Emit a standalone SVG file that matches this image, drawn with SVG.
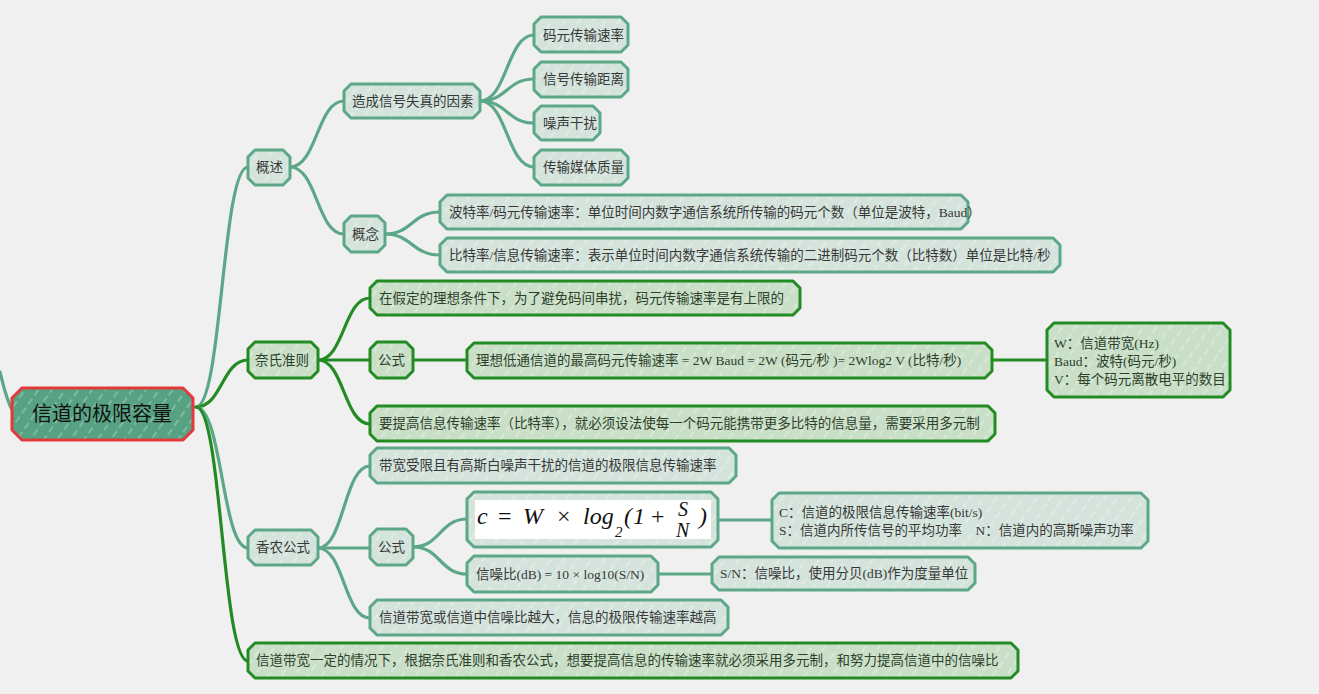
<svg xmlns="http://www.w3.org/2000/svg" width="1319" height="694" viewBox="0 0 1319 694">
<style>
  .t{fill:url(#hT);stroke:#5CA787;stroke-width:3;stroke-linejoin:round}
  .g{fill:url(#hG);stroke:#238B23;stroke-width:3;stroke-linejoin:round}
  .r{fill:url(#hR);stroke:#E23A3C;stroke-width:3;stroke-linejoin:round}
  text{font-family:"Liberation Serif","Noto Sans CJK SC",serif;font-size:13.5px;fill:#383838}
  .gt{fill:#2E3F2A}
  .root{font-size:20px;fill:#111;text-anchor:middle}
  text.f{font-family:"Liberation Serif","DejaVu Serif",serif;font-style:italic;font-size:24px;fill:#111}
  .up{font-style:normal}
  .ct{fill:none;stroke:#5CA787;stroke-width:3.2;stroke-linecap:round}
  .cg{fill:none;stroke:#238B23;stroke-width:3.2;stroke-linecap:round}
</style>
<defs>
  <pattern id="hT" width="11" height="11" patternUnits="userSpaceOnUse" patternTransform="rotate(35)">
    <rect width="11" height="11" fill="#D4E4DC"/>
    <line x1="2" y1="0" x2="2" y2="7" stroke="#fff" stroke-opacity=".55" stroke-width="1"/>
  </pattern>
  <pattern id="hG" width="11" height="11" patternUnits="userSpaceOnUse" patternTransform="rotate(35)">
    <rect width="11" height="11" fill="#C9DFC8"/>
    <line x1="2" y1="0" x2="2" y2="7" stroke="#fff" stroke-opacity=".55" stroke-width="1"/>
  </pattern>
  <pattern id="hR" width="11" height="11" patternUnits="userSpaceOnUse" patternTransform="rotate(35)">
    <rect width="11" height="11" fill="#56A282"/>
    <line x1="2" y1="0" x2="2" y2="7" stroke="#fff" stroke-opacity=".5" stroke-width="1"/>
  </pattern>
</defs>
<rect width="1319" height="694" fill="#F0F0F0"/>

<g id="connectors">
  <path class="ct" d="M0 372C4 388 6 398 12 410"/>
  <path class="ct" d="M196 407C222 407 222 167 248 167"/>
  <path class="cg" d="M196 407C222 407 222 360 248 360"/>
  <path class="ct" d="M196 407C222 407 222 548 248 548"/>
  <path class="cg" d="M196 407C222 407 222 661 248 661"/>
  <path class="ct" d="M290 167C317 167 317 101 344 101"/>
  <path class="ct" d="M290 167C317 167 317 234 344 234"/>
  <path class="ct" d="M480 101C507 101 507 35 534 35"/>
  <path class="ct" d="M480 101C507 101 507 79 534 79"/>
  <path class="ct" d="M480 101C507 101 507 123 534 123"/>
  <path class="ct" d="M480 101C507 101 507 167 534 167"/>
  <path class="ct" d="M385 234C412 234 412 212 440 212"/>
  <path class="ct" d="M385 234C412 234 412 255 440 255"/>
  <path class="cg" d="M318 360C344 360 344 298 370 298"/>
  <path class="cg" d="M318 360H370"/>
  <path class="cg" d="M318 360C344 360 344 424 370 424"/>
  <path class="cg" d="M413 360H467"/>
  <path class="cg" d="M992 360H1047"/>
  <path class="ct" d="M318 548C344 548 344 466 370 466"/>
  <path class="ct" d="M318 548H370"/>
  <path class="ct" d="M318 548C344 548 344 618 370 618"/>
  <path class="ct" d="M413 547C440 547 440 519 467 519"/>
  <path class="ct" d="M413 547C440 547 440 574 467 574"/>
  <path class="ct" d="M718 520H772"/>
  <path class="ct" d="M658 574H712"/>
</g>

<g id="root"><path class="r" d="M22 388H183L193 398V430L183 440H22L12 430V398Z"/><text class="root" x="102" y="421">信道的极限容量</text></g>

<g id="n-gaishu"><path class="t" d="M255 150H283L290 157V178L283 185H255L248 178V157Z"/><text x="256" y="172">概述</text></g>
<g id="n-yinsu"><path class="t" d="M351 84H473L480 91V111L473 118H351L344 111V91Z"/><text x="352" y="106">造成信号失真的因素</text></g>
<g id="n-maoyuan"><path class="t" d="M541 17H621L628 24V45L621 52H541L534 45V24Z"/><text x="543" y="40">码元传输速率</text></g>
<g id="n-juli"><path class="t" d="M541 62H621L628 69V90L621 97H541L534 90V69Z"/><text x="543" y="84">信号传输距离</text></g>
<g id="n-zaosheng"><path class="t" d="M541 106H593L600 113V133L593 140H541L534 133V113Z"/><text x="543" y="128">噪声干扰</text></g>
<g id="n-meiti"><path class="t" d="M541 150H621L628 157V178L621 185H541L534 178V157Z"/><text x="543" y="172">传输媒体质量</text></g>
<g id="n-gainian"><path class="t" d="M351 216H378L385 223V245L378 252H351L344 245V223Z"/><text x="352" y="239">概念</text></g>
<g id="n-bote"><path class="t" d="M447 195H961L968 202V222L961 229H447L440 222V202Z"/><text x="449" y="217">波特率/码元传输速率：单位时间内数字通信系统所传输的码元个数（单位是波特，Baud）</text></g>
<g id="n-bite"><path class="t" d="M447 238H1053L1060 245V265L1053 272H447L440 265V245Z"/><text x="449" y="260">比特率/信息传输速率：表示单位时间内数字通信系统传输的二进制码元个数（比特数）单位是比特/秒</text></g>

<g id="n-naishi"><path class="g" d="M255 342H311L318 349V371L311 378H255L248 371V349Z"/><text class="gt" x="255" y="365">奈氏准则</text></g>
<g id="n-jiading"><path class="g" d="M377 281H793L800 288V308L793 315H377L370 308V288Z"/><text class="gt" x="379" y="303">在假定的理想条件下，为了避免码间串扰，码元传输速率是有上限的</text></g>
<g id="n-gongshi1"><path class="g" d="M377 342H406L413 349V371L406 378H377L370 371V349Z"/><text class="gt" x="378" y="365">公式</text></g>
<g id="n-lixiang"><path class="g" d="M474 343H985L992 350V371L985 378H474L467 371V350Z"/><text class="gt" x="476" y="365">理想低通信道的最高码元传输速率 = 2W Baud = 2W (码元/秒 )= 2Wlog2 V (比特/秒)</text></g>
<g id="n-wbox"><path class="g" d="M1054 323H1223L1230 330V390L1223 397H1054L1047 390V330Z"/><text class="gt" x="1054" y="348">W：信道带宽(Hz)</text><text class="gt" x="1054" y="366">Baud：波特(码元/秒)</text><text class="gt" x="1054" y="384">V：每个码元离散电平的数目</text></g>
<g id="n-yaotigao"><path class="g" d="M377 406H988L995 413V434L988 441H377L370 434V413Z"/><text class="gt" x="379" y="428">要提高信息传输速率（比特率），就必须设法使每一个码元能携带更多比特的信息量，需要采用多元制</text></g>

<g id="n-xiangnong"><path class="t" d="M255 530H311L318 537V558L311 565H255L248 558V537Z"/><text x="256" y="552">香农公式</text></g>
<g id="n-daikuan"><path class="t" d="M377 448H729L736 455V476L729 483H377L370 476V455Z"/><text x="379" y="470">带宽受限且有高斯白噪声干扰的信道的极限信息传输速率</text></g>
<g id="n-gongshi2"><path class="t" d="M377 529H406L413 536V558L406 565H377L370 558V536Z"/><text x="378" y="552">公式</text></g>
<g id="n-formula"><path class="t" d="M474 492H711L718 499V540L711 547H474L467 540V499Z"/><rect x="475" y="500" width="236" height="39" fill="#fff"/>
  <text class="f"><tspan x="477" y="524">c</tspan><tspan class="up" x="498" y="524">=</tspan><tspan x="523" y="524">W</tspan><tspan class="up" x="557" y="524">×</tspan><tspan x="583" y="524">log</tspan><tspan x="615" y="537" style="font-size:15px">2</tspan><tspan x="624" y="524">(</tspan><tspan x="633" y="524">1</tspan><tspan class="up" x="651" y="524">+</tspan><tspan x="678" y="516" style="font-size:20px">S</tspan><tspan x="676" y="537" style="font-size:20px">N</tspan><tspan x="699" y="524">)</tspan></text></g>
<g id="n-cbox"><path class="t" d="M779 493H1141L1148 500V541L1141 548H779L772 541V500Z"/><text x="779" y="517">C：信道的极限信息传输速率(bit/s)</text><text x="779" y="535">S：信道内所传信号的平均功率　N：信道内的高斯噪声功率</text></g>
<g id="n-xinzaobi"><path class="t" d="M474 556H651L658 563V585L651 592H474L467 585V563Z"/><text x="476" y="579">信噪比(dB) = 10 × log10(S/N)</text></g>
<g id="n-snbox"><path class="t" d="M719 557H968L975 564V583L968 590H719L712 583V564Z"/><text x="720" y="578">S/N：信噪比，使用分贝(dB)作为度量单位</text></g>
<g id="n-yueda"><path class="t" d="M377 600H721L728 607V628L721 635H377L370 628V607Z"/><text x="379" y="622">信道带宽或信道中信噪比越大，信息的极限传输速率越高</text></g>

<g id="n-final"><path class="g" d="M255 643H1011L1018 650V671L1011 678H255L248 671V650Z"/><text class="gt" x="256" y="665">信道带宽一定的情况下，根据奈氏准则和香农公式，想要提高信息的传输速率就必须采用多元制，和努力提高信道中的信噪比</text></g>
</svg>
